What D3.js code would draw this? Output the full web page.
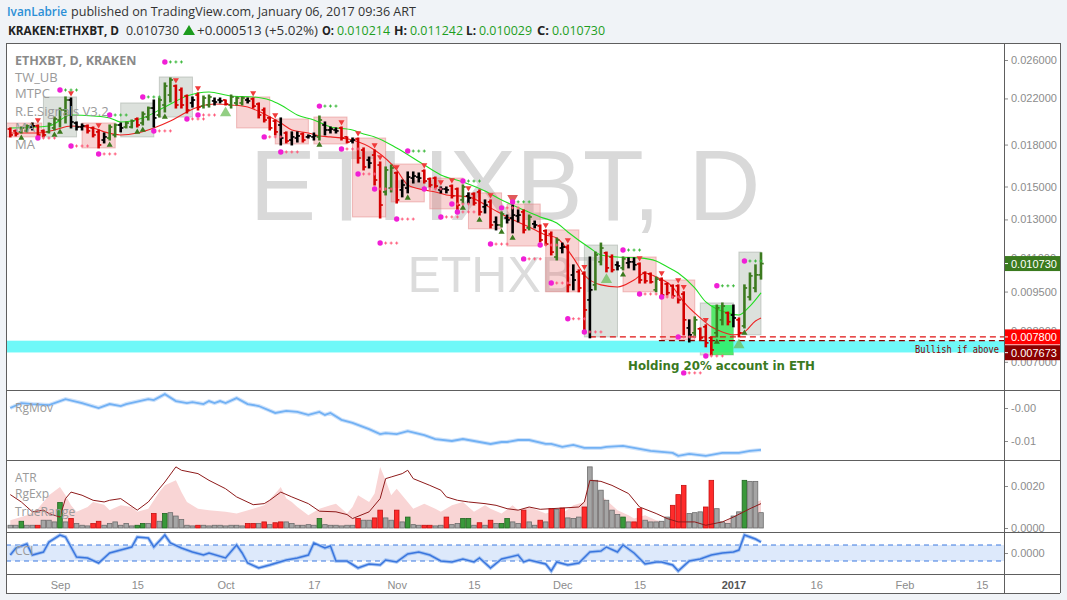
<!DOCTYPE html>
<html><head><meta charset="utf-8">
<script src="https://cdn.jsdelivr.net/npm/d3@7"></script>
<style>body{margin:0;background:#f0f3f7;}svg{display:block}</style>
</head><body>
<svg id="c" width="1067" height="600"></svg>
<script>
// ---------------- DATA ----------------
const startDate = Date.UTC(2016, 7, 23);
const barColor = ("rrggkrrggg"+"gkkkrrrkgg"+"kggrggkggg"+"rrrkrggkkr"+"gggkrrrrrk"+"rkkrkkgkkk"+"rrkrrkrrgg"+"rkkkkrrrkk"+"rrgkrrkrkg"+"kkkrgkrrrg"+"krkrrkggrr"+"kgkkrrrgrr"+"rrrkgrrrgg"+"rkrgggg").split("");
const open = [.01926,.01910,.01902,.01910,.01943,.01952,.01910,.01902,.01935,.02003,
.02092,.02185,.01977,.01943,.01952,.01935,.01902,.01836,.01852,.01877,
.01960,.01943,.01943,.02012,.01977,.02029,.02110,.02047,.02138,.02233,
.02322,.02282,.02223,.02157,.02233,.02128,.02138,.02176,.02185,.02185,
.02138,.02157,.02157,.02185,.02195,.02147,.02092,.02021,.01994,.01960,
.01893,.01836,.01852,.01885,.01861,.01861,.01861,.01960,.01918,.01918,
.01935,.01861,.01828,.01844,.01758,.01683,.01720,.01647,.01465,.01490,
.01591,.01478,.01490,.01556,.01563,.01605,.01550,.01556,.01478,.01484,
.01503,.01484,.01415,.01440,.01452,.01465,.01373,.01403,.01286,.01269,
.01308,.01308,.01320,.01343,.01253,.01275,.01264,.01237,.01220,.01104,
.01148,.01153,.01021,.01035,.01026,.00916,.00978,.01081,.01124,.01104,
.01067,.01053,.01076,.01081,.01071,.01030,.01026,.00957,.00999,.00982,
.00974,.00974,.00940,.00811,.00794,.00808,.00815,.00777,.00794,.00840,
.00866,.00858,.00840,.00818,.00928,.00965,.010214];
const high = [.01935,.01918,.01943,.01960,.01977,.01960,.01918,.01977,.02029,.02110,
.02214,.02204,.01986,.01969,.01960,.01943,.01918,.01893,.01960,.01969,
.01977,.01986,.02003,.02021,.02074,.02119,.02185,.02204,.02353,.02405,
.02332,.02302,.02233,.02214,.02253,.02223,.02233,.02204,.02204,.02185,
.02233,.02214,.02214,.02204,.02204,.02157,.02110,.02029,.02003,.02021,
.01902,.01902,.01902,.01893,.01877,.01893,.02038,.01986,.01943,.01935,
.01943,.01861,.01852,.01852,.01774,.01705,.01758,.01669,.01633,.01647,
.01598,.01543,.01598,.01598,.01591,.01612,.01556,.01563,.01497,.01497,
.01510,.01490,.01510,.01459,.01459,.01478,.01415,.01415,.01314,.01343,
.01325,.01384,.01355,.01355,.01325,.01291,.01269,.01242,.01231,.01199,
.01173,.01163,.01067,.01044,.01035,.01104,.01128,.01173,.01128,.01114,
.01081,.01104,.01100,.01100,.01076,.01035,.01030,.01012,.01008,.00986,
.00978,.00978,.00949,.00840,.00851,.00811,.00822,.00780,.00896,.00904,
.00869,.00896,.00847,.00978,.01030,.01067,.011242];
const low = [.01861,.01869,.01893,.01902,.01918,.01861,.01861,.01893,.01918,.01943,
.01977,.01935,.01918,.01918,.01893,.01861,.01774,.01813,.01836,.01861,
.01902,.01935,.01935,.01943,.01960,.02003,.01943,.02029,.02074,.02166,
.02110,.02110,.02065,.02119,.02092,.02110,.02119,.02138,.02157,.02138,
.02110,.02138,.02138,.02157,.02110,.02021,.01986,.01918,.01877,.01797,
.01813,.01797,.01820,.01820,.01852,.01836,.01836,.01877,.01893,.01893,
.01836,.01813,.01813,.01661,.01612,.01626,.01510,.01308,.01446,.01465,
.01396,.01434,.01459,.01523,.01530,.01523,.01497,.01490,.01459,.01459,
.01427,.01355,.01396,.01396,.01384,.01325,.01337,.01253,.01242,.01258,
.01280,.01226,.01286,.01226,.01242,.01253,.01179,.01163,.01114,.01090,
.01124,.00949,.00957,.00949,.00797,.00777,.00957,.01067,.01035,.01035,
.01044,.01044,.01053,.01044,.00986,.00986,.00986,.00949,.00928,.00936,
.00924,.00904,.00787,.00763,.00780,.00770,.00747,.00721,.00780,.00822,
.00822,.00815,.00780,.00811,.00916,.00949,.010029];
const close = [.01877,.01885,.01935,.01952,.01952,.01877,.01877,.01969,.02012,.02092,
.02185,.01986,.01943,.01952,.01910,.01877,.01797,.01861,.01943,.01960,
.01935,.01977,.01994,.01960,.02056,.02110,.02021,.02185,.02322,.02384,
.02138,.02138,.02092,.02185,.02119,.02204,.02214,.02166,.02176,.02147,
.02214,.02204,.02204,.02176,.02128,.02047,.02003,.01935,.01902,.01852,
.01828,.01861,.01869,.01836,.01869,.01869,.02003,.01918,.01926,.01910,
.01852,.01820,.01836,.01698,.01633,.01661,.01543,.01384,.01612,.01626,
.01415,.01510,.01563,.01570,.01556,.01536,.01510,.01503,.01484,.01478,
.01440,.01384,.01497,.01427,.01396,.01343,.01384,.01269,.01269,.01331,
.01297,.01325,.01325,.01242,.01314,.01269,.01189,.01168,.01128,.01189,
.01153,.00978,.00999,.00965,.00877,.00957,.01114,.01148,.01053,.01044,
.01062,.01095,.01081,.01067,.00999,.00995,.00991,.01003,.00936,.00945,
.00932,.00916,.00840,.00787,.00840,.00777,.00760,.00737,.00885,.00892,
.00833,.00847,.00794,.00965,.01017,.010217,.010730];

const maGreenIdx = [0,7,11,15,18,20,24,28,32,34,36,40,44,47,49,52,55,58,62,64,66,70,75,78,82,86,89,93,96,99,101,105,107,110,114,117,119,121,124,126,128,130,132,134,136];
const maGreenVal = [.01935,.01952,.02047,.02038,.02021,.01986,.02021,.02119,.02223,.02253,.02263,.02223,.02214,.02185,.02138,.02047,.02003,.01943,.01918,.01885,.01861,.01774,.01647,.01577,.01530,.01471,.01415,.01355,.01314,.01280,.01231,.01148,.01114,.01104,.01100,.01085,.01058,.01030,.00965,.00908,.00881,.00866,.00858,.00892,.00945];
const maRedIdx = [0,5,8,11,15,17,20,23,26,29,32,34,37,40,43,46,49,51,54,56,58,62,66,70,72,75,77,79,83,87,90,94,97,99,102,104,107,110,113,115,117,120,122,125,127,129,131,133,135,136];
const maRedVal = [.01893,.01893,.01918,.01952,.01935,.01902,.01877,.01893,.01935,.01994,.02074,.02119,.02147,.02138,.02119,.02056,.01977,.01918,.01893,.01869,.01861,.01836,.01758,.01612,.01510,.01478,.01465,.01446,.01434,.01367,.01314,.01258,.01215,.01199,.01100,.01021,.00978,.00969,.00999,.01030,.01012,.00969,.00908,.00847,.00815,.00797,.00787,.00797,.00836,.00847];

const boxStart = [-1,6,13,20,27,41,48,55,62,69,76,83,90,97,104,111,118,125,132];
const boxEnd   = [5.7,12,19,26,33,47,54,61,68,75,82,89,96,103,110,117,124,131,136];
const boxTop   = [.01977,.02214,.01977,.02157,.02415,.02214,.02012,.02029,.01852,.01654,.01556,.01459,.01390,.01242,.01163,.01104,.00999,.00904,.01128];
const boxBot   = [.01861,.01861,.01774,.01861,.02029,.01935,.01805,.01805,.01314,.01403,.01361,.01248,.01158,.00949,.00780,.00949,.00770,.00721,.00787];
const boxKind  = "rgrggrrrrrrrrrgrrgg".split("");

const triDownIdx = [5,11,16,30,34,44,48,60,63,66,67,70,75,78,80,83,87,97,101,104,114,118,121,122,126];
const triBigDownIdx = [91];
const triUpIdx = [2,8,9,18,23,24,28,56,72,82,85,89,91,111,128,133];
const triBigUpIdx = [39,108,132];

const pivHiIdx = [9,18,24,28,56,72,82,91,111,128,133];
const pivHiVal = [.02282,.02047,.02214,.02578,.02128,.01750,.01536,.01403,.01138,.00974,.01085];
const pivLoIdx = [5,11,16,26,32,34,46,49,60,63,66,67,70,75,78,80,81,87,89,93,96,98,101,104,114,118,121,122,126];
const pivLoVal = [.01852,.01789,.01728,.01910,.02012,.02047,.01861,.01743,.01766,.01584,.01484,.01173,.01302,.01484,.01314,.01390,.01343,.01168,.01367,.01095,.01163,.00986,.00844,.00797,.00940,.00928,.00780,.00667,.00718];

const levelPrices = [0.0078, 0.007673];
const levelStart = [105, 117.5];
const zoneTop = 0.007673, zoneBottom = 0.00729;
const greenZone = {start:127, end:131, top:.00896, bottom:.00721};

const priceTicks = [0.026, 0.022, 0.018, 0.015, 0.013, 0.011, 0.0095, 0.008, 0.007];
const lastPrice = 0.010730;

const rgIdx = [0,2,4,7,10,13,16,18,20,21,25,26,28,30,32,33,35,36,37,38,39,41,43,45,48,50,52,54,56,57,58,60,62,65,67,68,70,72,75,77,80,82,84,87,89,90,92,94,97,98,100,102,104,107,108,111,113,116,120,121,123,126,129,132,134,136];
const rgVal = [0,.0015,.0012,.0009,.0027,.0015,0,.0012,.0006,.0012,.0027,.0024,.0042,.0021,.0015,.0018,.0012,.0021,.0015,.0021,.0015,.0030,.0012,.0006,-.0015,-.0009,-.0012,-.0021,-.0012,-.0021,-.0015,-.0036,-.0045,-.0064,-.0079,-.0076,-.0079,-.0070,-.0082,-.0094,-.0100,-.0094,-.0100,-.0109,-.0103,-.0103,-.0097,-.0097,-.0109,-.0109,-.0118,-.0112,-.0121,-.0121,-.0118,-.0115,-.0121,-.0130,-.0136,-.0145,-.0139,-.0145,-.0136,-.0136,-.0130,-.0127];

const trueRange = [.00013,.00013,.00032,.00013,.00013,.00013,.00037,.00037,.00029,.00121,
.00029,.00045,.00021,.00013,.00010,.00021,.00032,.00013,.00021,.00029,
.00013,.00021,.00010,.00013,.00021,.00021,.00069,.00032,.00069,.00073,
.00057,.00040,.00013,.00010,.00013,.00013,.00010,.00013,.00013,.00010,
.00013,.00013,.00010,.00021,.00021,.00021,.00029,.00016,.00025,.00029,
.00029,.00021,.00013,.00013,.00016,.00013,.00045,.00016,.00013,.00013,
.00010,.00013,.00013,.00045,.00037,.00037,.00048,.00085,.00048,.00037,
.00085,.00029,.00052,.00016,.00013,.00013,.00013,.00010,.00013,.00052,
.00016,.00021,.00045,.00045,.00013,.00025,.00013,.00037,.00021,.00021,
.00045,.00029,.00021,.00085,.00029,.00013,.00037,.00029,.00092,.00089,
.00095,.00048,.00045,.00052,.00100,.00291,.00227,.00180,.00132,.00085,
.00064,.00052,.00029,.00029,.00092,.00037,.00029,.00029,.00032,.00052,
.00108,.00159,.00203,.00069,.00073,.00077,.00100,.00227,.00092,.00029,
.00021,.00057,.00077,.00227,.00222,.00222,.00073];
const trColor = ("kkgkkrkkkg"+"krkkkrrkkk"+"kkkggkrkgk"+"kkkkrkkkkk"+"kkkrrkrkrr"+"kkkkkkgkkk"+"kkkrkkrrkk"+"rkgkkrrkkr"+"kkggkrkrkg"+"gkkrkkrkrk"+"rkkkrkkkkk"+"kgkrrkkkkk"+"rrrkkkrrkk"+"kkkgkkk").split("");

const atrIdx = [0,2,4,6,7,9,10,11,13,15,17,18,20,23,25,26,28,30,31,34,36,39,41,44,46,47,49,51,54,56,59,61,62,65,67,68,69,71,72,73,76,78,79,81,83,86,88,90,92,94,96,98,100,103,104,105,107,109,112,114,117,119,121,124,126,129,131,134,136];
const atrVal = [.00159,.00124,.00077,.00085,.00069,.00052,.00140,.00171,.00156,.00132,.00124,.00132,.00140,.00085,.00124,.00156,.00219,.00291,.00275,.00259,.00227,.00187,.00148,.00111,.00116,.00132,.00171,.00148,.00116,.00080,.00077,.00064,.00045,.00077,.00140,.00235,.00243,.00259,.00275,.00235,.00203,.00180,.00148,.00132,.00124,.00116,.00108,.00092,.00085,.00100,.00089,.00092,.00095,.00100,.00124,.00227,.00222,.00203,.00164,.00100,.00069,.00045,.00029,.00029,.00013,.00029,.00052,.00092,.00116];
const rgeIdx = [0,3,5,7,9,10,11,12,14,15,17,18,20,22,23,25,27,28,30,31,32,34,36,39,41,44,46,48,49,50,51,52,54,56,58,59,61,62,63,65,66,67,68,69,70,72,73,75,77,78,80,82,84,86,87,89,91,92,94,97,99,100,102,104,105,106,108,110,112,113,115,117,119,121,123,125,128,129,131,133,135,136];
const rgeVal = [.00037,.00061,.00092,.00156,.00195,.00156,.00108,.00077,.00100,.00124,.00111,.00085,.00108,.00100,.00077,.00092,.00171,.00203,.00227,.00171,.00124,.00092,.00085,.00077,.00069,.00092,.00108,.00164,.00195,.00140,.00124,.00100,.00061,.00092,.00108,.00116,.00069,.00100,.00156,.00124,.00164,.00291,.00227,.00156,.00187,.00124,.00092,.00116,.00092,.00077,.00108,.00124,.00077,.00108,.00092,.00069,.00108,.00085,.00100,.00069,.00085,.00069,.00108,.00124,.00283,.00180,.00132,.00085,.00061,.00045,.00061,.00037,.00029,.00021,.00029,.00013,.00029,.00021,.00052,.00085,.00124,.00132];

const cciIdx = [0,1,3,4,6,7,9,10,11,12,14,16,18,20,22,23,25,26,28,29,31,33,35,36,39,41,42,43,45,47,50,52,54,55,57,58,59,61,63,65,67,68,70,72,74,76,78,80,82,84,85,87,89,92,93,94,97,98,99,101,103,105,107,108,110,111,113,115,117,118,120,121,123,125,127,129,131,132,133,134,135,136];
const cciVal = [-25,62,112,-25,12,137,225,200,75,-50,-62,-125,0,37,75,200,187,75,225,125,62,12,-25,0,-62,100,0,-125,-187,-150,-87,-62,-25,125,62,87,-100,-100,-187,-137,-150,-87,-112,-12,12,-25,-100,-112,-75,-112,-62,-187,-75,-25,-112,-87,-137,-225,-112,-150,-125,12,25,75,12,100,0,-137,-112,-112,-150,-225,-100,-75,-25,0,12,37,225,200,175,137];

const xTickDates = [[2016,8,1],[2016,8,15],[2016,9,1],[2016,9,17],[2016,10,1],[2016,10,15],[2016,11,1],[2016,11,15],[2017,0,1],[2017,0,16],[2017,1,1],[2017,1,15]];
const monthNames = ["Jan","Feb","Mar","Apr","May","Jun","Jul","Aug","Sep","Oct","Nov","Dec"];

// ---------------- LAYOUT ----------------
const N = close.length;
const L = 6, R = 1004, AXR = 1060;
const P = {main:[43,390], rg:[390,460], atr:[460,532], cci:[532,574], xa:[574,593]};
const svg = d3.select("#c");
const FONT = "'Open Sans', 'Noto Sans', sans-serif";
const AFONT = "'Liberation Sans', Arial, sans-serif";

const xBar = d3.scaleLinear().domain([0, 136]).range([10.3, 761]);
const xTime = d3.scaleUtc().domain([new Date(startDate), new Date(startDate + 136*864e5)]).range([10.3, 761]);
const yPrice = d3.scaleLog().domain([0.026, 0.007]).range([60, 361.8]);
const yRg = d3.scaleLinear().domain([0, -0.01]).range([408, 441]);
const yAtr = d3.scaleLinear().domain([0, 0.002]).range([528, 486]);
const yCci = d3.scaleLinear().domain([-100, 100]).range([561, 545]);

svg.append("rect").attr("width",1067).attr("height",600).attr("fill","#f0f3f7");
svg.append("rect").attr("x",L).attr("y",43).attr("width",AXR-L).attr("height",550).attr("fill","#fff");

// header
function htext(t, x, y, w, opts={}) {
  return svg.append("text").attr("x",x).attr("y",y).text(t)
    .attr("font-family",FONT).attr("font-size",opts.size||12.5)
    .attr("font-weight",opts.weight||400).attr("fill",opts.fill||"#333")
    .attr("textLength",w).attr("lengthAdjust","spacingAndGlyphs");
}
htext("IvanLabrie",7,16,60,{fill:"#2b8fd6",weight:600});
htext("published on TradingView.com, January 06, 2017 09:36 ART",71,16,345,{fill:"#333"});
htext("KRAKEN:ETHXBT, D",8,34.5,111,{weight:700,fill:"#222"});
htext("0.010730",126,34.5,53,{fill:"#333"});
svg.append("path").attr("d","M183,35 L189,25 L195,35 Z").attr("fill","#1d9b1d");
htext("+0.000513 (+5.02%)",197,34.5,121,{fill:"#333"});
const ohlcHeader = [["O:",322,12,"0.010214",337],["H:",394,13,"0.011242",410],["L:",466,10,"0.010029",479],["C:",537,12,"0.010730",552]];
ohlcHeader.forEach(d=>{ htext(d[0],d[1],34.5,d[2],{weight:700,fill:"#222"}); htext(d[3],d[4],34.5,53,{fill:"#1e9e1e"}); });

// clip paths
const defs = svg.append("defs");
function clip(id, y0, y1){ defs.append("clipPath").attr("id",id).append("rect").attr("x",L).attr("y",y0).attr("width",R-L).attr("height",y1-y0); }
clip("cMain",P.main[0],P.main[1]); clip("cRg",P.rg[0],P.rg[1]); clip("cAtr",P.atr[0],P.atr[1]); clip("cCci",P.cci[0],P.cci[1]);

// ---------------- MAIN PANEL ----------------
const mg = svg.append("g").attr("clip-path","url(#cMain)");
mg.append("text").attr("x",505).attr("y",220).attr("text-anchor","middle").attr("font-family",AFONT)
  .attr("font-size",100).attr("fill","#d9d9d9").text("ETHXBT, D");
mg.append("text").attr("x",506).attr("y",292).attr("text-anchor","middle").attr("font-family",AFONT)
  .attr("font-size",50).attr("fill","#dcdcdc").text("ETHXBT");

// boxes
mg.append("g").selectAll("rect").data(d3.range(boxStart.length)).join("rect")
  .attr("x",i=>xBar(boxStart[i])).attr("width",i=>xBar(boxEnd[i])-xBar(boxStart[i]))
  .attr("y",i=>yPrice(boxTop[i])).attr("height",i=>yPrice(boxBot[i])-yPrice(boxTop[i]))
  .attr("fill",i=>boxKind[i]==="r"?"rgba(232,110,110,0.30)":"rgba(150,165,150,0.33)")
  .attr("stroke",i=>boxKind[i]==="r"?"rgba(225,120,120,0.45)":"rgba(150,160,150,0.45)")
  .attr("stroke-width",1);

// cyan zone
mg.append("rect").attr("x",L).attr("width",R-L).attr("y",yPrice(zoneTop)).attr("height",yPrice(zoneBottom)-yPrice(zoneTop))
  .attr("fill","#6ff8f8");
// green zone
mg.append("rect").attr("x",xBar(greenZone.start)).attr("width",xBar(greenZone.end)-xBar(greenZone.start))
  .attr("y",yPrice(greenZone.top)).attr("height",yPrice(greenZone.bottom)-yPrice(greenZone.top))
  .attr("fill","rgba(30,235,60,0.7)");

// level lines
mg.append("line").attr("x1",xBar(levelStart[0])).attr("x2",R).attr("y1",yPrice(levelPrices[0])).attr("y2",yPrice(levelPrices[0]))
  .attr("stroke","#e01010").attr("stroke-width",1.2).attr("stroke-dasharray","6,4");
mg.append("line").attr("x1",xBar(levelStart[1])).attr("x2",R).attr("y1",yPrice(levelPrices[1])).attr("y2",yPrice(levelPrices[1]))
  .attr("stroke","#8b0000").attr("stroke-width",1.2).attr("stroke-dasharray","6,4");

// MAs
const maLine = d3.line().x(d=>xBar(d[0])).y(d=>yPrice(d[1])).curve(d3.curveMonotoneX);
mg.append("path").attr("d",maLine(maGreenIdx.map((d,i)=>[d,maGreenVal[i]]))).attr("fill","none").attr("stroke","#22dd22").attr("stroke-width",1.1);
mg.append("path").attr("d",maLine(maRedIdx.map((d,i)=>[d,maRedVal[i]]))).attr("fill","none").attr("stroke","#ee2222").attr("stroke-width",1.1);

// OHLC bars
const cMap = {g:"#3c7a1f", r:"#d40000", k:"#000000"};
const bg = mg.append("g").selectAll("g").data(d3.range(N)).join("g").attr("stroke",i=>cMap[barColor[i]]);
bg.append("line").attr("x1",i=>xBar(i)).attr("x2",i=>xBar(i)).attr("y1",i=>yPrice(high[i])-0.5).attr("y2",i=>yPrice(low[i])+0.5).attr("stroke-width",2.6);
bg.append("line").attr("x1",i=>xBar(i)-2.7).attr("x2",i=>xBar(i)).attr("y1",i=>yPrice(open[i])).attr("y2",i=>yPrice(open[i])).attr("stroke-width",1.7);
bg.append("line").attr("x1",i=>xBar(i)).attr("x2",i=>xBar(i)+2.7).attr("y1",i=>yPrice(close[i])).attr("y2",i=>yPrice(close[i])).attr("stroke-width",1.7);

// triangles
const tri = d3.symbol().type(d3.symbolTriangle);
mg.append("g").selectAll("path").data(triDownIdx).join("path").attr("d",tri.size(16)())
  .attr("transform",i=>`translate(${xBar(i)},${yPrice(high[i])-5}) rotate(180)`).attr("fill","#f03a3a");
mg.append("g").selectAll("path").data(triBigDownIdx).join("path").attr("d",tri.size(50)())
  .attr("transform",i=>`translate(${xBar(i)},${yPrice(high[i])-7}) rotate(180)`).attr("fill","#e05a5a");
mg.append("g").selectAll("path").data(triUpIdx).join("path").attr("d",tri.size(16)())
  .attr("transform",i=>`translate(${xBar(i)},${yPrice(low[i])+5})`).attr("fill","#3c7a1f");
mg.append("g").selectAll("path").data(triBigUpIdx).join("path").attr("d",tri.size(55)())
  .attr("transform",i=>`translate(${xBar(i)},${yPrice(low[i])+8})`).attr("fill","rgba(110,190,90,0.75)");

// pivots: dot + three crosses
function pivots(idx, val, plusColor){
  const g = mg.append("g");
  idx.forEach((b,k)=>{
    const y = yPrice(val[k]);
    g.append("circle").attr("cx",xBar(b)).attr("cy",y).attr("r",2.7).attr("fill","#f01fd6");
    [1,2,3].forEach(j=>{
      const x = xBar(b+j);
      g.append("path").attr("d",`M${x-1.5},${y}H${x+1.5}M${x},${y-1.5}V${y+1.5}`).attr("stroke",plusColor).attr("stroke-width",1);
    });
  });
}
pivots(pivHiIdx, pivHiVal, "#3cb83c");
pivots(pivLoIdx, pivLoVal, "#ff5a7a");

// annotations
mg.append("text").attr("x",628).attr("y",370).attr("font-family","'DejaVu Sans', sans-serif").attr("font-weight",700)
  .attr("font-size",12).attr("fill","#3b7a1f").attr("textLength",187).attr("lengthAdjust","spacingAndGlyphs").text("Holding 20% account in ETH");
mg.append("text").attr("x",915).attr("y",352.5).attr("font-family","'DejaVu Sans Mono', monospace")
  .attr("font-size",11).attr("fill","#8b0000").attr("textLength",84).attr("lengthAdjust","spacingAndGlyphs").text("Bullish if above");

// legend
const legend = [["ETHXBT, D, KRAKEN",65,700],["TW_UB",82,400],["MTPC",98,400],["R.E.Signals V3.2",116,400],["MA",132,400],["MA",149,400]];
legend.forEach(d=>svg.append("text").attr("x",15).attr("y",d[1]).attr("font-family",FONT).attr("font-size",d[2]===700?12.5:13)
  .attr("font-weight",d[2]).attr("fill",d[2]===700?"#8a8a8a":"#9a9a9a").text(d[0]));

// ---------------- RgMov ----------------
const rgG = svg.append("g").attr("clip-path","url(#cRg)");
const rgLine = d3.line().x(d=>xBar(d[0])).y(d=>yRg(d[1]));
const rgPts = rgIdx.map((d,i)=>[d,rgVal[i]]);
rgG.append("path").attr("d",rgLine(rgPts)).attr("fill","none").attr("stroke","#cfe3fb").attr("stroke-width",4);
rgG.append("path").attr("d",rgLine(rgPts)).attr("fill","none").attr("stroke","#72b1f4").attr("stroke-width",1.8);

// ---------------- ATR ----------------
const atrG = svg.append("g").attr("clip-path","url(#cAtr)");
const area = d3.area().x(d=>xBar(d[0])).y0(yAtr(0)).y1(d=>yAtr(d[1]));
atrG.append("path").attr("d",area(rgeIdx.map((d,i)=>[d,rgeVal[i]]))).attr("fill","#f9d5d5");
const hFill = {k:"#a5a5a5", r:"#ff2b2b", g:"#3a983a"}, hStroke = {k:"#6c6c6c", r:"#c41010", g:"#1f651f"};
atrG.append("g").selectAll("rect").data(d3.range(N)).join("rect")
  .attr("x",i=>xBar(i)-2.3).attr("width",4.6).attr("y",i=>yAtr(trueRange[i])).attr("height",i=>yAtr(0)-yAtr(trueRange[i]))
  .attr("fill",i=>hFill[trColor[i]]).attr("stroke",i=>hStroke[trColor[i]]).attr("stroke-width",0.8);
atrG.append("path").attr("d",d3.line().x(d=>xBar(d[0])).y(d=>yAtr(d[1]))(atrIdx.map((d,i)=>[d,atrVal[i]])))
  .attr("fill","none").attr("stroke","#8e1a1a").attr("stroke-width",1);

// ---------------- CCI ----------------
const cciG = svg.append("g").attr("clip-path","url(#cCci)");
cciG.append("rect").attr("x",L).attr("width",R-L).attr("y",yCci(100)).attr("height",yCci(-100)-yCci(100)).attr("fill","#dde9fb");
[100,-100].forEach(v=>cciG.append("line").attr("x1",L).attr("x2",R).attr("y1",yCci(v)).attr("y2",yCci(v))
  .attr("stroke","#3b78e0").attr("stroke-dasharray","5,4").attr("stroke-width",1));
const cciLine = d3.line().x(d=>xBar(d[0])).y(d=>yCci(d[1]));
const cciPts = cciIdx.map((d,i)=>[d,cciVal[i]]);
cciG.append("path").attr("d",cciLine(cciPts)).attr("fill","none").attr("stroke","#a8c6f3").attr("stroke-width",3.5);
cciG.append("path").attr("d",cciLine(cciPts)).attr("fill","none").attr("stroke","#3a76de").attr("stroke-width",1.5);

// panel labels
[["RgMov",412],["ATR",482],["RgExp",498],["TrueRange",516],["CCI",555]].forEach(d=>
  svg.append("text").attr("x",15).attr("y",d[1]).attr("font-family",FONT).attr("font-size",12).attr("fill","#9a9a9a").text(d[0]));

// ---------------- AXES ----------------
function styleAxis(g){
  g.select(".domain").remove();
  g.selectAll("line").attr("stroke","#8a8a8a");
  g.selectAll("text").attr("fill","#8c8c8c").attr("font-family",AFONT).attr("font-size",11);
}
svg.append("g").attr("transform",`translate(${R},0)`)
  .call(d3.axisRight(yPrice).tickValues(priceTicks).tickFormat(d=>d.toFixed(6)).tickSize(4).tickPadding(3)).call(styleAxis);
svg.append("g").attr("transform",`translate(${R},0)`)
  .call(d3.axisRight(yRg).tickValues([0,-0.01]).tickFormat(d=>d===0?"-0.00":"-0.01").tickSize(4).tickPadding(3)).call(styleAxis);
svg.append("g").attr("transform",`translate(${R},0)`)
  .call(d3.axisRight(yAtr).tickValues([0,0.002]).tickFormat(d=>d.toFixed(4)).tickSize(4).tickPadding(3)).call(styleAxis);
svg.append("g").attr("transform",`translate(${R},0)`)
  .call(d3.axisRight(yCci).tickValues([0]).tickFormat(()=>"0.0000").tickSize(4).tickPadding(3)).call(styleAxis);

// price labels
function priceLabel(v, y, fill){
  const g = svg.append("g");
  g.append("rect").attr("x",R).attr("y",y-7.5).attr("width",AXR-R).attr("height",15).attr("fill",fill);
  g.append("line").attr("x1",R).attr("x2",R+4).attr("y1",y).attr("y2",y).attr("stroke","#fff");
  g.append("text").attr("x",R+7).attr("y",y+4).attr("fill","#fff").attr("font-family",AFONT).attr("font-size",11).text(v.toFixed(6));
}
priceLabel(lastPrice, yPrice(lastPrice), "#3a7a1e");
priceLabel(levelPrices[0], yPrice(levelPrices[0]), "#ff0000");
priceLabel(levelPrices[1], yPrice(levelPrices[1])+12, "#8b0000");

// x axis
const xa = svg.append("g").attr("transform",`translate(0,${P.cci[1]})`)
  .call(d3.axisBottom(xTime).tickValues(xTickDates.map(d=>new Date(Date.UTC(d[0],d[1],d[2]))))
    .tickFormat(d=>d.getUTCDate()===1?(d.getUTCMonth()===0?String(d.getUTCFullYear()):monthNames[d.getUTCMonth()]):String(d.getUTCDate()))
    .tickSize(0).tickPadding(7)).call(styleAxis);
xa.selectAll("text").filter(d=>d.getUTCMonth()===0&&d.getUTCDate()===1).attr("font-weight",700).attr("fill","#555");

// separators & frame
const sep = svg.append("g").attr("stroke","#5e5e5e").attr("stroke-width",1);
[43,390,460,532,574,593].forEach(y=>sep.append("line").attr("x1",L).attr("x2",AXR).attr("y1",y+0.5).attr("y2",y+0.5));
[L,R,AXR].forEach(x=>sep.append("line").attr("x1",x+0.5).attr("x2",x+0.5).attr("y1",43).attr("y2",593));
</script>
</body></html>
